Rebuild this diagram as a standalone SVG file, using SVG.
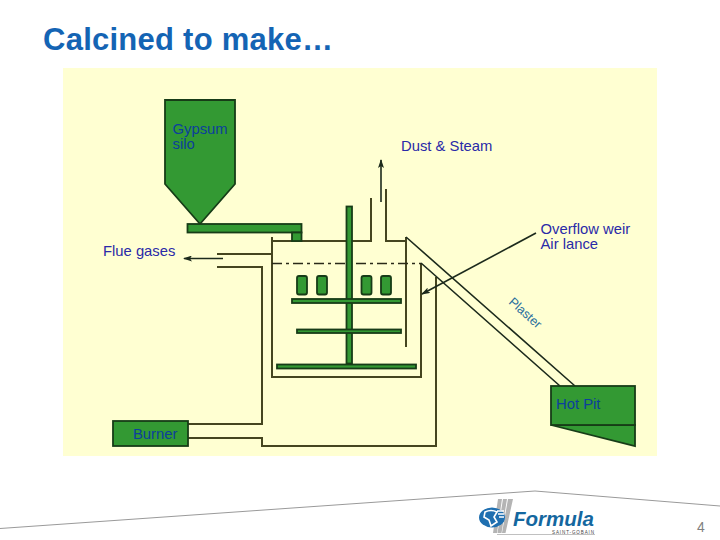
<svg xmlns="http://www.w3.org/2000/svg" width="720" height="540" viewBox="0 0 720 540">
<style>
text{font-family:"Liberation Sans",Arial,sans-serif}
.g{fill:#339933;stroke:#173c17;stroke-width:1.8}
.l{fill:none;stroke:#45451f;stroke-width:2}
.k{fill:none;stroke:#1c2a1c;stroke-width:1.6}
.t{font-size:14.800px;fill:#2a2aa8}
.n{font-size:14.800px;fill:#0c3f9c}
</style>
<defs>
<marker id="a" markerWidth="9" markerHeight="6" refX="8" refY="3" orient="auto" markerUnits="userSpaceOnUse"><path d="M0 0L9 3L0 6L2 3Z" fill="#1c2a1c"/></marker>
</defs>
<rect width="720" height="540" fill="#fff"/>
<text x="43" y="49.500" font-size="31" font-weight="700" fill="#1464b4" textLength="290" lengthAdjust="spacing">Calcined to make…</text>
<rect x="63" y="68" width="594" height="388" fill="#ffffd2"/>
<g id="connectors">
<path class="l" d="M272 237V377H421V263"/>
<path class="l" d="M272 241H371V198M386 189V241H406M406 237V347"/>
<path class="l" d="M217 254H272M217 267H262V424H188M188 438H262V446H436V277"/>
<path class="k" d="M406 237L575 386M421 263L560 386"/>
<path d="M272 263.500H421" fill="none" stroke="#2a2a18" stroke-width="1.300" stroke-dasharray="10 4 3 4"/>
<path class="k" d="M223 258.500H184" marker-end="url(#a)"/>
<path class="k" d="M381 202V160" marker-end="url(#a)"/>
<path class="k" d="M536 233L422 294" marker-end="url(#a)"/>
</g>
<g id="gypsum-silo">
<path class="g" d="M165 100H235V184L200 224L165 184Z"/>
<text class="n" x="172.500" y="134">Gypsum</text>
<text class="n" x="172.500" y="149">silo</text>
</g>
<g id="conveyor">
<rect class="g" x="187.500" y="224" width="114" height="8.500"/>
<rect class="g" x="292" y="232.500" width="9.500" height="8.500"/>
</g>
<g id="agitator">
<rect class="g" x="346.500" y="206.500" width="5.500" height="157"/>
<rect class="g" x="292" y="299" width="109" height="4"/>
<rect class="g" x="297" y="329.500" width="104" height="3.500"/>
<rect class="g" x="277" y="364.500" width="139" height="4"/>
<rect class="g" x="297" y="276" width="10" height="18.500" rx="2"/>
<rect class="g" x="317" y="276" width="10" height="18.500" rx="2"/>
<rect class="g" x="361.500" y="276" width="10" height="18.500" rx="2"/>
<rect class="g" x="381" y="276" width="10" height="18.500" rx="2"/>
</g>
<g id="burner">
<rect class="g" x="113" y="421" width="75" height="25"/>
<text class="n" x="133" y="439">Burner</text>
</g>
<g id="hot-pit">
<path class="g" d="M551 425L635 446V425Z"/>
<rect class="g" x="551" y="386" width="84" height="39"/>
<text class="n" x="556" y="408.500">Hot Pit</text>
</g>
<g id="labels">
<text class="t" x="103" y="256">Flue gases</text>
<text class="t" x="401" y="151">Dust &amp; Steam</text>
<text class="t" x="540.500" y="234">Overflow weir</text>
<text class="t" x="540.500" y="249">Air lance</text>
<text font-size="12.500" fill="#2a6f9e" transform="translate(508 303) rotate(42)" textLength="39">Plaster</text>
</g>
<g id="footer">
<path d="M0 528.500L535 491L720 506" fill="none" stroke="#9a9a9a" stroke-width="1"/>
<path d="M493 533L498 499H502L497 533ZM497.500 533L503 499H507L501.500 533ZM502 533L508 499H513L505.500 533Z" fill="#b4b4b4"/>
<ellipse cx="492" cy="517.500" rx="13" ry="10" fill="#1f6fb0"/>
<path d="M485 512Q491 509 497 512L494 517L497 522L491 526L489 520L484 517ZM497 511H504M498 514H504M499 517H504" fill="none" stroke="#fff" stroke-width="1.600"/>
<text x="513" y="526" font-size="21" font-weight="700" font-style="italic" fill="#14679f" textLength="81" lengthAdjust="spacingAndGlyphs">Formula</text>
<path d="M497 534.500H595" stroke="#b0b0b0" stroke-width=".8"/>
<text x="552" y="534" font-size="4.500" fill="#444" textLength="42">SAINT-GOBAIN</text>
<text x="697" y="532" font-size="14" fill="#808080">4</text>
</g>
</svg>
